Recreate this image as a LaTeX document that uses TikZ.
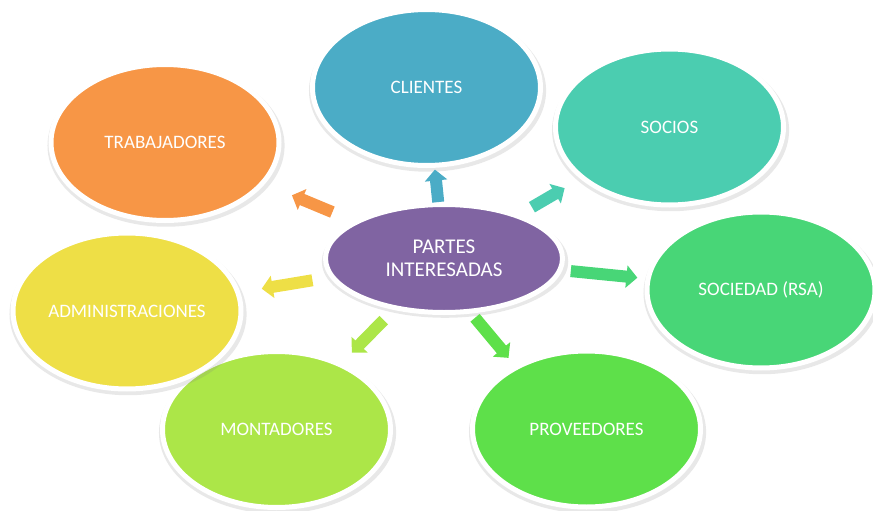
\documentclass[tikz,border=0pt]{standalone}
\usepackage{fontspec}
\setmainfont{Carlito}
\usepackage{xcolor}
\usepackage{tikz}
\usetikzlibrary{shapes}
\usetikzlibrary{arrows.meta}
\usetikzlibrary{calc}
\usetikzlibrary{shadows}
\definecolor{partescol}{HTML}{8064A2}
\definecolor{clientescol}{HTML}{4BACC6}
\definecolor{socioscol}{HTML}{4BCDB0}
\definecolor{sociedadcol}{HTML}{48D677}
\definecolor{proveedorescol}{HTML}{5EE04A}
\definecolor{montadorescol}{HTML}{ACE648}
\definecolor{admincol}{HTML}{EEDF46}
\definecolor{trabajadorescol}{HTML}{F79646}
\tikzset{
  main node/.style={ellipse,draw=white,line width=5pt,inner sep=0pt,
    minimum width=228pt,minimum height=156pt,text=white,
    font=\fontsize{19}{23}\selectfont,
    drop shadow={opacity=0.18,shadow scale=1.04,shadow xshift=1pt,shadow yshift=-3pt}},
  center node/.style={main node,minimum width=237pt,minimum height=108pt,
    font=\fontsize{21}{23}\selectfont,align=center},
  link/.style={->,line width=12pt}
}

\begin{document}
\begin{tikzpicture}[x=1pt,y=-1pt,>={Triangle[width=22pt,length=11pt]}]
  \useasboundingbox (0,0) rectangle (873,511);
  % centre and the seven parties
  \node [center node,fill=partescol] (1) at (444,258.5) {PARTES\\INTERESADAS};
  \node [main node,fill=clientescol] (2) at (426.5,87.5) {CLIENTES};
  \node [main node,fill=socioscol] (3) at (669.5,127) {SOCIOS};
  \node [main node,fill=sociedadcol] (4) at (761,290) {SOCIEDAD (RSA)};
  \node [main node,fill=proveedorescol] (5) at (586.5,429) {PROVEEDORES};
  \node [main node,fill=montadorescol] (6) at (276.5,429.5) {MONTADORES};
  \node [main node,fill=admincol] (7) at (127,311) {ADMINISTRACIONES};
  \node [main node,fill=trabajadorescol] (8) at (165,142.5) {TRABAJADORES};
  % block arrows
  \draw [link,clientescol] ($(1)!.33!(2)$) -- ($(1)!.52!(2)$);
  \draw [link,socioscol] ($(1)!.39!(3)$) -- ($(1)!.535!(3)$);
  \draw [link,sociedadcol] ($(1)!.40!(4)$) -- ($(1)!.61!(4)$);
  \draw [link,proveedorescol] ($(1)!.295!(5)+(-11,9)$) -- ($(1)!.53!(5)+(-11,9)$);
  \draw [link,montadorescol] ($(1)!.36!(6)$) -- ($(1)!.55!(6)$);
  \draw [link,admincol] ($(1)!.415!(7)$) -- ($(1)!.575!(7)$);
  \draw [link,trabajadorescol] ($(1)!.40!(8)$) -- ($(1)!.545!(8)$);
\end{tikzpicture}
\end{document}
